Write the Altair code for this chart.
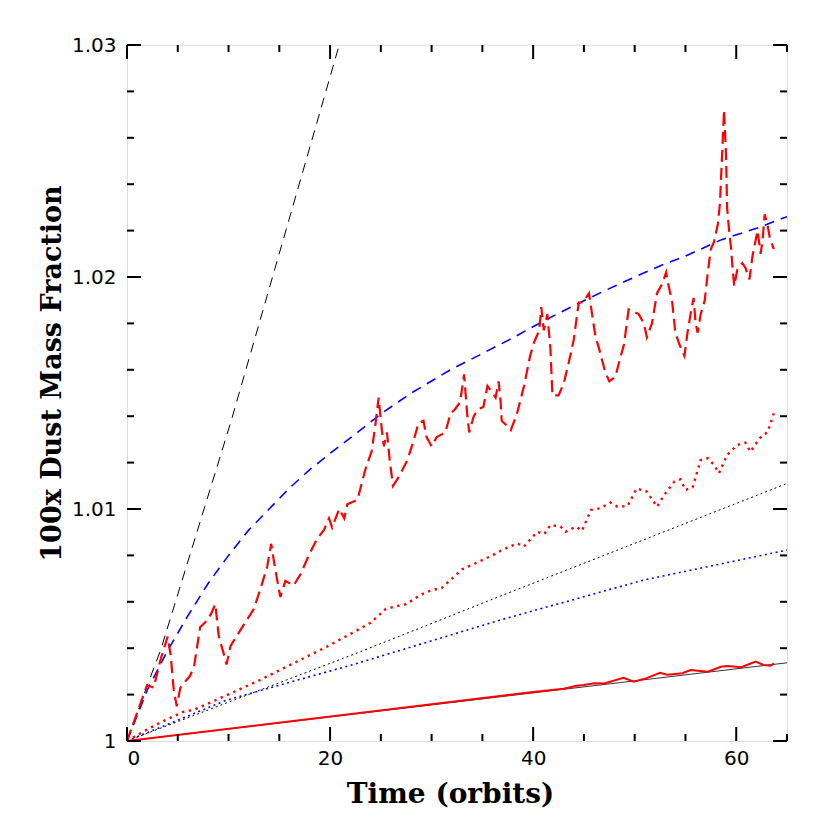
import altair as alt
import pandas as pd

# ---------------- data ----------------
red_dash_t = [0, 1.31, 1.97, 2.63, 3.3, 4.0, 4.3, 4.6, 4.9, 5.26, 5.8, 6.2, 6.6, 7.2, 7.9, 8.3, 8.7, 9.04, 9.5, 9.8,
              10.2, 11.2, 12.5, 13.1, 13.8, 14.2, 14.6, 15.1, 15.6, 16.4, 17.1, 17.9, 18.7, 19.4, 19.9, 20.2, 20.9,
              21.4, 21.7, 22.7, 23.47, 24.1, 24.45, 24.78, 25.1, 25.3, 25.6, 25.9, 26.2, 26.8, 27.6, 28.2, 28.7,
              29.2, 29.5, 30.0, 30.5, 31.35, 31.85, 32.3, 32.8, 33.2, 33.5, 33.7, 34.15, 34.6, 35.1, 35.5, 36.0,
              36.3, 36.6, 36.8, 36.9, 37.4, 37.8, 38.4, 39.1, 39.7, 40.1, 40.6, 40.8, 41.05, 41.4, 41.7, 41.9, 42.5,
              43.0, 43.5, 44.0, 44.3, 44.5, 44.8, 45.2, 45.5, 45.8, 46.15, 46.5, 46.8, 47.1, 47.5, 48.1, 48.45,
              48.95, 49.4, 49.9, 50.4, 50.9, 51.2, 51.7, 52.2, 52.7, 53.1, 53.3, 53.7, 54.0, 54.4, 54.9, 55.2, 55.5,
              55.8, 56.0, 56.2, 56.5, 56.9, 57.2, 57.5, 57.8, 58.2, 58.4, 58.6, 58.8, 59.0, 59.1, 59.3, 59.5, 59.6,
              59.8, 60.1, 60.6, 60.9, 61.3, 61.6, 62.1, 62.4, 62.6, 62.8, 63.1, 63.3, 63.7]
red_dash_v = [1.0, 1.0016, 1.0024, 1.0023, 1.0035, 1.0045, 1.0037, 1.0022, 1.0015, 1.0023, 1.0026, 1.0028, 1.0032,
              1.0049, 1.0052, 1.0055, 1.0059, 1.0045, 1.0038, 1.0033, 1.0041, 1.0048, 1.0057, 1.0065, 1.0075,
              1.0085, 1.0074, 1.0062, 1.0069, 1.0067, 1.0072, 1.0080, 1.0087, 1.0091, 1.0096, 1.0092, 1.0100,
              1.0096, 1.0102, 1.0104, 1.0117, 1.0125, 1.0136, 1.0148, 1.0134, 1.0127, 1.0133, 1.0120, 1.0110,
              1.0114, 1.0121, 1.0129, 1.0137, 1.0138, 1.0131, 1.0127, 1.0131, 1.0133, 1.0141, 1.0143, 1.0146,
              1.0158, 1.0141, 1.0133, 1.0140, 1.0143, 1.0144, 1.0153, 1.0150, 1.0148, 1.0155, 1.0146, 1.0138,
              1.0136, 1.0134, 1.0141, 1.0153, 1.0166, 1.0172, 1.0177, 1.0187, 1.0177, 1.0184, 1.0169, 1.0149,
              1.0149, 1.0154, 1.0163, 1.0173, 1.0183, 1.0189, 1.0189, 1.0191, 1.0193, 1.0184, 1.0174, 1.0169,
              1.0164, 1.0159, 1.0155, 1.0157, 1.0163, 1.0171, 1.0186, 1.0185, 1.0184, 1.0180, 1.0174, 1.0180,
              1.0193, 1.0197, 1.0202, 1.0197, 1.0189, 1.0176, 1.0171, 1.0166, 1.0176, 1.0184, 1.0191, 1.0180,
              1.0176, 1.0184, 1.0190, 1.0202, 1.0212, 1.0215, 1.0223, 1.0232, 1.0252, 1.0272, 1.0252, 1.0230,
              1.0220, 1.0212, 1.0206, 1.0196, 1.0203, 1.0206, 1.0204, 1.0199, 1.0209, 1.0220, 1.0210, 1.0216,
              1.0227, 1.0222, 1.0217, 1.0212]

red_dot_t = [0, 2, 3.3, 5.5, 6.57, 9.86, 13.1, 16.4, 19.7, 22.7, 24, 25.5, 26.5, 27.5, 28.9, 30, 31, 32, 33, 34,
             35, 36, 36.8, 38.4, 39.1, 40.4, 41.1, 41.7, 42.7, 43.2, 44.2, 44.8, 45.7, 46.6, 47.6, 48.3, 49.3,
             50.2, 51.2, 52.2, 52.9, 53.9, 54.5, 55.0, 55.7, 56.5, 57.2, 57.8, 58.3, 59.1, 60.1, 60.9, 61.4,
             62.3, 63.1, 63.7]
red_dot_v = [1.0, 1.0005, 1.0008, 1.00125, 1.00134, 1.00198, 1.00263, 1.00335, 1.00407, 1.00478, 1.0051, 1.0057,
             1.0058, 1.0059, 1.0063, 1.0065, 1.0066, 1.0070, 1.0074, 1.0076, 1.0078, 1.0080, 1.0082, 1.00852,
             1.00838, 1.00902, 1.00892, 1.00931, 1.00924, 1.00902, 1.00924, 1.00906, 1.00996, 1.01003, 1.01028,
             1.0101, 1.01013, 1.01089, 1.01075, 1.0101, 1.0106, 1.01118, 1.01128, 1.01082, 1.01093, 1.01211,
             1.01219, 1.0119, 1.01154, 1.01233, 1.01276, 1.01286, 1.01247, 1.01305, 1.01333, 1.01412]

red_solid_t = [0, 40, 43, 44.3, 45, 46, 47, 48.9, 49.9, 51, 52.5, 53.2, 54.7, 55.5, 57.2, 58.5, 59.1, 60.5, 61.9,
               62.7, 63.4, 63.7]
red_solid_v = [1.0, 1.00211, 1.00225, 1.00238, 1.00241, 1.00249, 1.00248, 1.00272, 1.00256, 1.00268, 1.00294,
               1.00286, 1.00292, 1.00306, 1.00299, 1.0032, 1.00323, 1.00318, 1.00342, 1.00328, 1.00325, 1.00335]

blue_dash_t = [0, 1, 2, 4, 6, 8, 10, 12, 14, 16, 18, 20, 22.7, 25, 28, 31.85, 35, 38.1, 41, 43.7, 47, 50, 52.6,
               55, 58.5, 62, 65]
blue_dash_v = [1.0, 1.0011, 1.0022, 1.0039, 1.0054, 1.0068, 1.0080, 1.0091, 1.0100, 1.0109, 1.0117, 1.0124,
               1.0133, 1.0141, 1.0150, 1.0160, 1.0167, 1.0174, 1.0181, 1.0187, 1.0194, 1.0200, 1.0205, 1.0209,
               1.0216, 1.0221, 1.0226]

blue_dot_t = [0, 9.86, 22.7, 36.8, 50.9, 65]
blue_dot_v = [1.0, 1.00177, 1.00335, 1.00522, 1.00694, 1.00823]

black_dash_t = [0, 2, 3.3, 10.26, 20.9]
black_dash_v = [1.0, 1.0024, 1.0039, 1.0138, 1.03]

black_dot_t = [0, 22.7, 36.8, 65]
black_dot_v = [1.0, 1.0038, 1.00625, 1.0111]

black_solid_t = [0, 65]
black_solid_v = [1.0, 1.00337]

x_major = [0, 20, 40, 60]
x_minor = [5, 10, 15, 25, 30, 35, 45, 50, 55, 65]
y_major = [1.0, 1.01, 1.02, 1.03]
y_minor = [1.002, 1.004, 1.006, 1.008, 1.012, 1.014, 1.016, 1.018, 1.022, 1.024, 1.026, 1.028]

# ---------------- chart ----------------
W, H = 660, 696
MAJ, MIN = 14, 7

xscale = alt.Scale(domain=[0, 65], nice=False, zero=False)
yscale = alt.Scale(domain=[1.0, 1.03], nice=False, zero=False)

xaxis = alt.Axis(values=x_major, ticks=False, tickSize=0, domain=False, grid=False,
                 labelFont="DejaVu Sans", labelFontSize=20, labelPadding=7, labelColor="black",
                 title="Time (orbits)", titleFont="DejaVu Serif", titleFontWeight="bold",
                 titleFontSize=28, titleColor="black", titleX=323, titleY=53, titleBaseline="middle",
                 titleAlign="center")
yaxis = alt.Axis(values=y_major, ticks=False, tickSize=0, domain=False, grid=False,
                 labelFont="DejaVu Sans", labelFontSize=20, labelPadding=11, labelColor="black",
                 labelExpr="datum.value == 1 ? '1' : format(datum.value, '.2f')",
                 title="100x Dust Mass Fraction", titleFont="DejaVu Serif", titleFontWeight="bold",
                 titleFontSize=27, titleColor="black", titleX=-75, titleY=328, titleBaseline="middle",
                 titleAlign="center", titleAngle=-90)


def X():
    return alt.X("t:Q", scale=xscale, axis=xaxis)


def Y():
    return alt.Y("v:Q", scale=yscale, axis=yaxis)


def series(ts, vs, color, width, dash=None):
    df = pd.DataFrame({"t": ts, "v": vs})
    kw = dict(color=color, strokeWidth=width, clip=True, strokeCap="butt")
    if dash:
        kw["strokeDash"] = dash
    return alt.Chart(df).mark_line(**kw).encode(x=X(), y=Y())


layers = [
    series(black_solid_t, black_solid_v, "black", 0.8),
    series(black_dot_t, black_dot_v, "black", 1.0, [2, 3]),
    series(black_dash_t, black_dash_v, "black", 1.0, [10, 7]),
    series(blue_dot_t, blue_dot_v, "#0000ff", 1.6, [2, 3.5]),
    series(blue_dash_t, blue_dash_v, "#0000ff", 1.6, [10, 7]),
    series(red_solid_t, red_solid_v, "#ff0000", 2.0),
    series(red_dot_t, red_dot_v, "#ff0000", 2.4, [2.4, 4.5]),
    series(red_dash_t, red_dash_v, "#ff0000", 2.2, [12, 6]),
]

xmaj = pd.DataFrame({"t": x_major})
xmin = pd.DataFrame({"t": x_minor})
ymaj = pd.DataFrame({"v": y_major})
ymin = pd.DataFrame({"v": y_minor})

tick_kw = dict(color="black", strokeWidth=2)
for df, ln in ((xmaj, MAJ), (xmin, MIN)):
    layers.append(alt.Chart(df).mark_rule(**tick_kw).encode(x=X(), y=alt.value(H), y2=alt.value(H - ln)))
    layers.append(alt.Chart(df).mark_rule(**tick_kw).encode(x=X(), y=alt.value(0), y2=alt.value(ln)))
for df, ln in ((ymaj, MAJ), (ymin, MIN)):
    layers.append(alt.Chart(df).mark_rule(**tick_kw).encode(y=Y(), x=alt.value(0), x2=alt.value(ln)))
    layers.append(alt.Chart(df).mark_rule(**tick_kw).encode(y=Y(), x=alt.value(W), x2=alt.value(W - ln)))

chart = alt.layer(*layers).properties(
    width=W, height=H,
    padding={"left": 119, "top": 37, "right": 20, "bottom": 75},
    autosize=alt.AutoSizeParams(type="none"),
).configure_view(stroke="black", strokeWidth=2).configure(background="white")

chart.save("out.html", embed_options={"renderer": "svg", "actions": False})
